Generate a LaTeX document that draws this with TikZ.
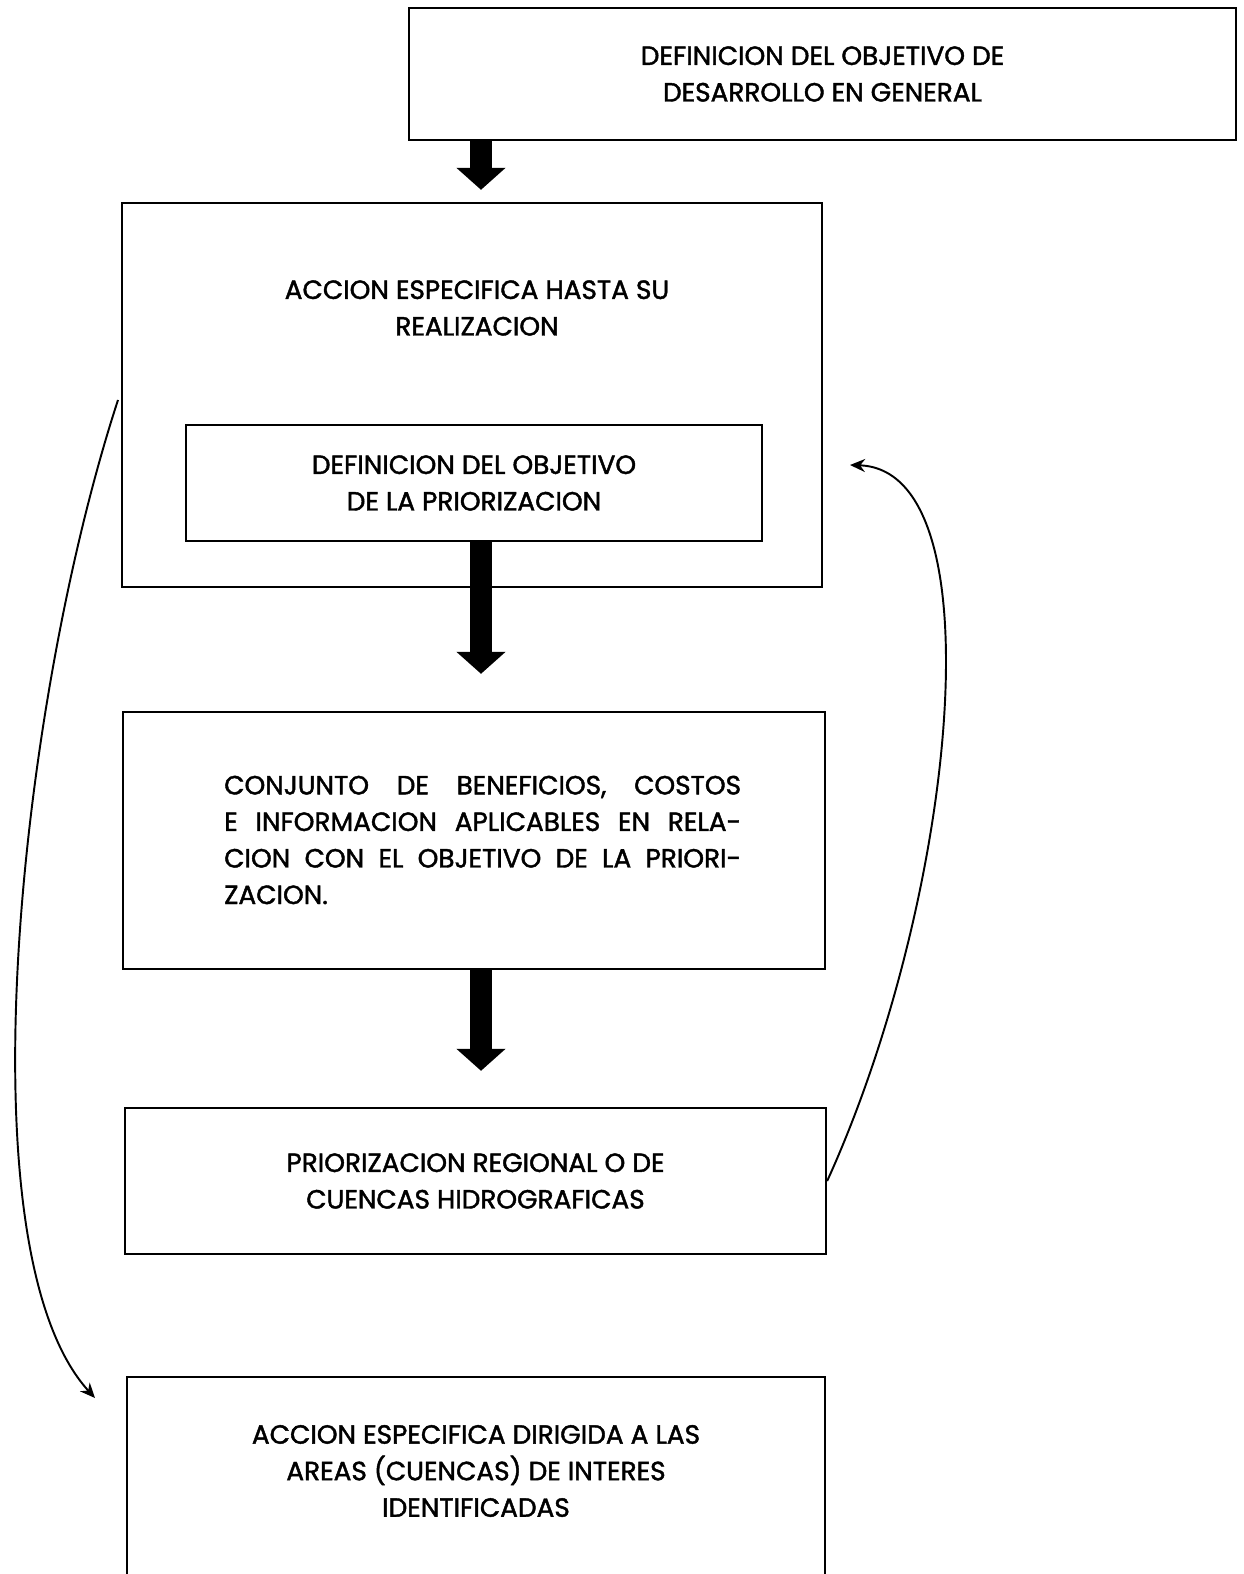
\documentclass[tikz,border=0pt]{standalone}
\usepackage{fontspec}
\setmainfont{Poppins}[BoldFont=Poppins, BoldFeatures={FakeBold=1.6}]
\usetikzlibrary{arrows.meta}
\newcommand{\fullline}[1]{\makebox[10.34cm][s]{#1}}
\begin{document}
\begin{tikzpicture}[x=0.02cm, y=-0.02cm,
        box/.style={draw, line width=1.4pt, inner sep=0pt},
        txt/.style={align=center, font=\fontsize{15}{20.8}\selectfont\bfseries},
        bigarrow/.style={line width=0.44cm, -{Triangle[width=0.96cm, length=0.44cm]}},
        loop/.style={line width=1.1pt, -{Stealth[length=0.3cm, width=0.26cm]}}]
        \useasboundingbox (0,0) rectangle (1243,1574);
        \coordinate (axis) at (481,0);
        \node[box, txt, minimum width=16.54cm, minimum height=2.64cm] (def) at (822.5,74)
            {DEFINICION DEL OBJETIVO DE\\DESARROLLO EN GENERAL};
        \node[box, minimum width=14cm, minimum height=7.68cm] (accion) at (472,395) {};
        \node[txt] (accionlbl) at (477,308) {ACCION ESPECIFICA HASTA SU\\REALIZACION};
        \node[box, txt, minimum width=11.52cm, minimum height=2.32cm] (objprio) at (474,483)
            {DEFINICION DEL OBJETIVO\\DE LA PRIORIZACION};
        \node[box, minimum width=14.04cm, minimum height=5.14cm] (criterios) at (474,840.5) {};
        \node[txt, align=left, anchor=west] (criterioslbl) at (218,840)
            {\fullline{CONJUNTO DE BENEFICIOS, COSTOS}\\\fullline{E INFORMACION APLICABLES EN RELA-}\\
             \fullline{CION CON EL OBJETIVO DE LA PRIORI-}\\ZACION.};
        \node[box, txt, minimum width=14.02cm, minimum height=2.92cm] (prio) at (475.5,1181)
            {PRIORIZACION REGIONAL O DE\\CUENCAS HIDROGRAFICAS};
        \node[box, minimum width=13.96cm, minimum height=4.26cm] (areas) at (476,1483.5) {};
        \node[txt] (areaslbl) at (476,1471)
            {ACCION ESPECIFICA DIRIGIDA A LAS\\AREAS (CUENCAS) DE INTERES\\IDENTIFICADAS};
        % flechas principales
        \draw[bigarrow, shorten >=0.24cm] (axis |- def.south) -- (axis |- accion.north);
        \draw[bigarrow, shorten >=0.74cm] (axis |- objprio.south) -- (axis |- criterios.north);
        \draw[bigarrow, shorten >=0.72cm] (axis |- criterios.south) -- (axis |- prio.north);
        % retroalimentacion
        \coordinate (rin) at (850,465);
        \coordinate (lout) at (118,400);
        \coordinate (lin) at (95,1398);
        \draw[loop] (prio.east) .. controls (955,900) and (1000,470) .. (rin);
        \draw[loop] (lout) .. controls (20,700) and (-40,1250) .. (lin);
    \end{tikzpicture}
\end{document}
